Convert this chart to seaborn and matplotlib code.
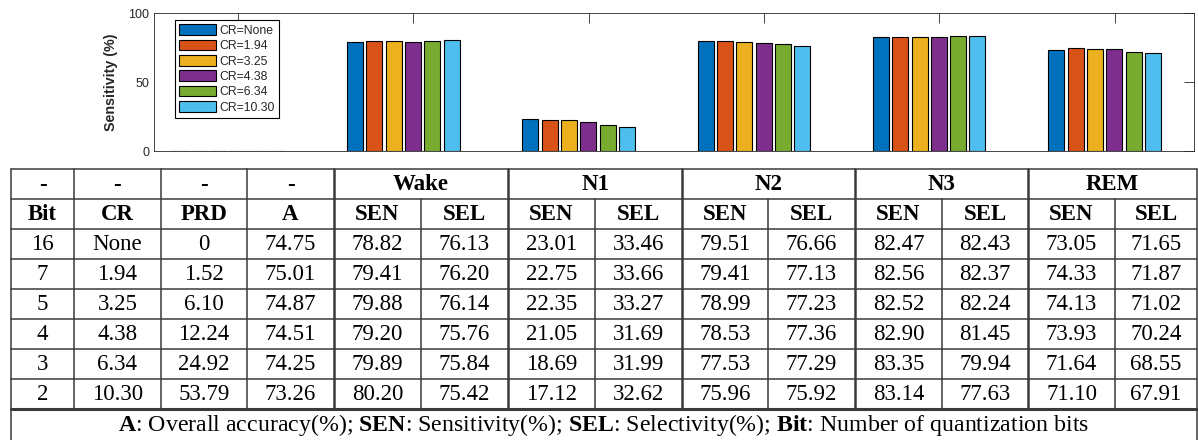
import numpy as np
import pandas as pd
import matplotlib
matplotlib.use('Agg')
import matplotlib.pyplot as plt
import seaborn as sns

# datos de la tabla
bits = ['16', '7', '5', '4', '3', '2']
cr = ['None', '1.94', '3.25', '4.38', '6.34', '10.30']
prd = ['0', '1.52', '6.10', '12.24', '24.92', '53.79']
acc = ['74.75', '75.01', '74.87', '74.51', '74.25', '73.26']
stages = ['Wake', 'N1', 'N2', 'N3', 'REM']
sen_wake = [78.82, 79.41, 79.88, 79.20, 79.89, 80.20]
sel_wake = [76.13, 76.20, 76.14, 75.76, 75.84, 75.42]
sen_n1 = [23.01, 22.75, 22.35, 21.05, 18.69, 17.12]
sel_n1 = [33.46, 33.66, 33.27, 31.69, 31.99, 32.62]
sen_n2 = [79.51, 79.41, 78.99, 78.53, 77.53, 75.96]
sel_n2 = [76.66, 77.13, 77.23, 77.36, 77.29, 75.92]
sen_n3 = [82.47, 82.56, 82.52, 82.90, 83.35, 83.14]
sel_n3 = [82.43, 82.37, 82.24, 81.45, 79.94, 77.63]
sen_rem = [73.05, 74.33, 74.13, 73.93, 71.64, 71.10]
sel_rem = [71.65, 71.87, 71.02, 70.24, 68.55, 67.91]
# primer grupo del grafico sin datos (barras en cero)
sen_vacio = [0, 0, 0, 0, 0, 0]

colores = ['#0072BD', '#D95319', '#EDB120', '#7E2F8E', '#77AC30', '#4DBEEE']

sns.set_style('white')
plt.rcParams['font.family'] = ['Liberation Sans', 'DejaVu Sans']
plt.rcParams['mathtext.fontset'] = 'custom'
plt.rcParams['mathtext.rm'] = 'Liberation Serif'
plt.rcParams['mathtext.bf'] = 'Liberation Serif:bold'
plt.rcParams['mathtext.it'] = 'Liberation Serif:italic'

fig = plt.figure(figsize=(11.98, 4.40), dpi=100)

# ---- tabla dibujada a mano en coordenadas de pixel ----
tax = fig.add_axes([0, 0, 1, 1])
tax.set_xlim(0, 1198)
tax.set_ylim(440, 0)
tax.axis('off')

xs = [11, 74, 161, 247, 334, 421, 508, 595, 682, 768, 855, 942, 1028, 1115, 1197]
ys = [169, 199, 229, 259, 289, 319, 349, 379, 409, 441]
lc = '#3a3a3a'

for y in ys[:8]:
    tax.plot([xs[0], xs[-1]], [y, y], color=lc, lw=1.1)
tax.plot([xs[0], xs[-1]], [ys[8], ys[8]], color=lc, lw=2.2)
tax.plot([xs[0], xs[0]], [ys[0], ys[-1]], color=lc, lw=1.1)
tax.plot([xs[-1], xs[-1]], [ys[0], ys[-1]], color=lc, lw=1.1)
for i in range(1, 4):
    tax.plot([xs[i], xs[i]], [ys[0], ys[8]], color=lc, lw=1.1)
for i in [4, 6, 8, 10, 12]:
    tax.plot([xs[i], xs[i]], [ys[0], ys[8]], color=lc, lw=1.8)
for i in [5, 7, 9, 11, 13]:
    tax.plot([xs[i], xs[i]], [ys[1], ys[8]], color=lc, lw=1.1)

serif = 'Liberation Serif'
fs = 16.5


def celda(col, fila, texto, bold=False, span=1):
    xc = (xs[col] + xs[col + span]) / 2
    yc = (ys[fila] + ys[fila + 1]) / 2
    tax.text(xc, yc + 1, texto, ha='center', va='center', family=serif,
             fontsize=fs, fontweight='bold' if bold else 'normal', color='black')


for c in range(4):
    celda(c, 0, '-', bold=True)
for k, st in enumerate(stages):
    celda(4 + 2 * k, 0, st, bold=True, span=2)
for c, h in enumerate(['Bit', 'CR', 'PRD', 'A'] + ['SEN', 'SEL'] * 5):
    celda(c, 1, h, bold=True)

columnas = [bits, cr, prd, acc]
for s in [sen_wake, sel_wake, sen_n1, sel_n1, sen_n2, sel_n2,
          sen_n3, sel_n3, sen_rem, sel_rem]:
    columnas.append(['%.2f' % v for v in s])
for c, col in enumerate(columnas):
    for r, v in enumerate(col):
        celda(c, 2 + r, v)

nota = (r'$\mathbf{A}$: Overall accuracy(%); $\mathbf{SEN}$: Sensitivity(%); '
        r'$\mathbf{SEL}$: Selectivity(%); $\mathbf{Bit}$: Number of quantization bits')
tax.text(604, (ys[8] + 440) / 2 + 1, nota, ha='center', va='center',
         family=serif, fontsize=17.2, color='black')

# ---- grafico de barras ----
filas = []
for st, vals in zip(['-'] + stages, [sen_vacio, sen_wake, sen_n1, sen_n2, sen_n3, sen_rem]):
    for c, v in zip(cr, vals):
        filas.append({'stage': st, 'cr': 'CR=' + c, 'sen': v})
df = pd.DataFrame(filas)

ax = fig.add_axes([154 / 1198, 1 - 151 / 440, 1040 / 1198, 138 / 440])
sns.barplot(data=df, x='stage', y='sen', hue='cr', palette=colores, width=0.66,
            gap=0.17, edgecolor='black', linewidth=0.8, saturation=1, ax=ax)
ax.set_xlim(-0.422, 5.51)
ax.set_ylim(0, 100)
ax.set_yticks([0, 50, 100])
# en el original los ticks quedan un poco corridos respecto a los grupos
ax.set_xticks(np.arange(6) + 0.057)
ax.set_xticklabels([])
ax.set_xlabel('')
ax.set_ylabel('Sensitivity (%)', fontsize=10.3, fontweight='bold', color='#262626', labelpad=7)
ax.tick_params(direction='in', length=7, width=0.6, top=True, right=True,
               labelsize=9, colors='#262626', labelcolor='#262626')
for sp in ax.spines.values():
    sp.set_visible(True)
    sp.set_color('#262626')
    sp.set_linewidth(0.6)
ax.patch.set_alpha(0)

leg = ax.legend(loc='upper left', bbox_to_anchor=(0.02, 0.95), borderaxespad=0,
                fontsize=8.8, handlelength=3.0, handleheight=1.0, labelspacing=0.22,
                borderpad=0.35, handletextpad=0.3, fancybox=False, framealpha=1)
leg.get_frame().set_edgecolor('black')
leg.get_frame().set_linewidth(0.8)

fig.savefig('out.png', dpi=100)
